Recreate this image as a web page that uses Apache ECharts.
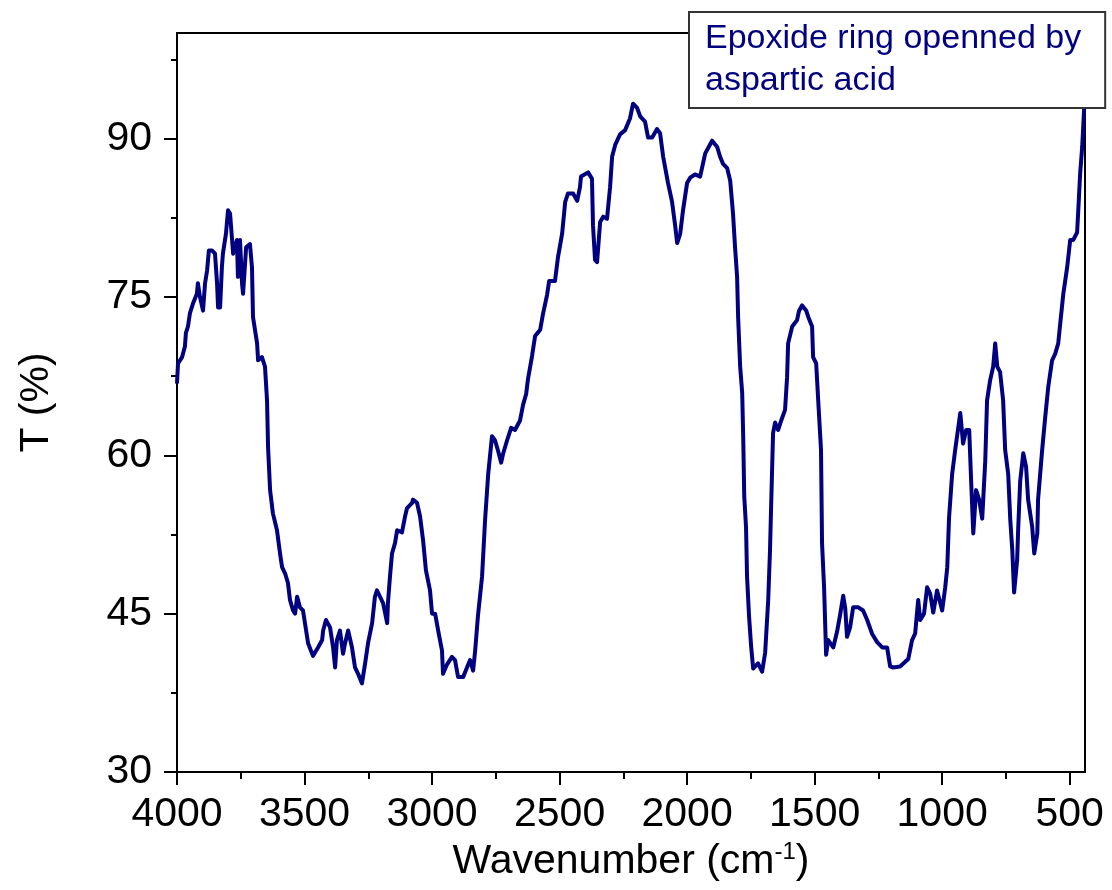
<!DOCTYPE html>
<html>
<head>
<meta charset="utf-8">
<script src="https://cdn.jsdelivr.net/npm/echarts@6/dist/echarts.min.js"></script>
<style>
  html, body { margin: 0; padding: 0; background: #ffffff; }
  #chart { width: 1112px; height: 890px; }
</style>
</head>
<body>
<div id="chart"></div>
<script>
// FTIR spectrum: wavenumber (cm^-1) and transmittance (%)
const wavenumbers = [
  4000, 3996, 3980, 3969, 3965, 3957, 3949, 3937, 3922, 3918, 3910, 3898, 3890, 3882, 3875, 3863,
  3851, 3843, 3839, 3831, 3824, 3820, 3808, 3800, 3792, 3784, 3780, 3765, 3761, 3753, 3745, 3741,
  3729, 3714, 3706, 3702, 3686, 3682, 3667, 3655, 3647, 3643, 3635, 3624, 3608, 3596, 3588, 3576,
  3565, 3557, 3545, 3537, 3529, 3518, 3506, 3486, 3467, 3447, 3431, 3427, 3416, 3400, 3388, 3380,
  3373, 3361, 3349, 3341, 3329, 3314, 3302, 3290, 3275, 3263, 3251, 3235, 3224, 3216, 3204, 3192,
  3176, 3173, 3165, 3157, 3145, 3137, 3118, 3106, 3098, 3078, 3075, 3059, 3047, 3035, 3024, 3008,
  3000, 2988, 2976, 2961, 2957, 2941, 2922, 2910, 2898, 2878, 2863, 2851, 2839, 2831, 2820, 2804,
  2792, 2780, 2765, 2753, 2741, 2729, 2722, 2706, 2690, 2675, 2655, 2643, 2631, 2624, 2608, 2596,
  2576, 2565, 2549, 2541, 2518, 2506, 2490, 2478, 2467, 2447, 2431, 2420, 2416, 2388, 2373, 2369,
  2361, 2353, 2341, 2329, 2314, 2302, 2294, 2282, 2263, 2243, 2224, 2212, 2196, 2184, 2165, 2153,
  2137, 2118, 2106, 2094, 2075, 2059, 2047, 2039, 2027, 2016, 2000, 1988, 1969, 1949, 1929, 1902,
  1882, 1871, 1859, 1843, 1831, 1820, 1812, 1804, 1800, 1792, 1784, 1780, 1776, 1769, 1765, 1757,
  1749, 1741, 1722, 1706, 1694, 1682, 1675, 1671, 1663, 1655, 1643, 1631, 1616, 1608, 1604, 1588,
  1569, 1561, 1549, 1533, 1525, 1510, 1506, 1494, 1486, 1475, 1471, 1463, 1455, 1447, 1427, 1412,
  1400, 1388, 1380, 1373, 1361, 1349, 1329, 1310, 1294, 1275, 1255, 1235, 1216, 1204, 1192, 1165,
  1133, 1118, 1106, 1094, 1086, 1071, 1059, 1047, 1035, 1020, 1000, 988, 980, 973, 961, 949,
  929, 918, 906, 894, 886, 878, 867, 855, 843, 831, 824, 812, 800, 792, 784, 773,
  761, 753, 741, 733, 725, 718, 706, 702, 694, 682, 671, 663, 647, 639, 627, 624,
  608, 596, 584, 569, 557, 545, 537, 525, 510, 498, 486, 471, 467, 459, 451, 443, 440
];
const transmittance = [
  66.8, 68.7, 69.3, 70.3, 71.6, 72.2, 73.5, 74.4, 75.3, 76.3, 75.0, 73.7, 76.3, 77.5, 79.4, 79.4,
  79.1, 76.3, 74.0, 74.0, 77.8, 79.1, 81.0, 83.2, 82.9, 80.4, 79.1, 80.4, 76.9, 80.4, 76.3, 75.3,
  79.7, 80.0, 77.8, 73.1, 70.6, 69.0, 69.3, 68.4, 65.2, 60.8, 56.7, 54.5, 52.9, 50.7, 49.4, 48.8,
  47.9, 46.3, 45.3, 45.0, 46.6, 45.6, 45.3, 42.2, 41.0, 41.8, 42.5, 43.4, 44.4, 43.7, 41.8, 39.9,
  42.5, 43.4, 41.2, 42.2, 43.4, 41.8, 39.9, 39.3, 38.4, 40.2, 42.2, 44.1, 46.6, 47.2, 46.6, 46.0,
  44.1, 46.0, 48.5, 50.7, 51.7, 52.9, 52.7, 54.2, 55.0, 55.5, 55.8, 55.5, 54.2, 51.9, 49.1, 47.2,
  45.0, 45.0, 43.4, 41.5, 39.3, 40.2, 40.9, 40.6, 39.0, 39.0, 39.9, 40.6, 39.6, 41.5, 44.8, 48.5,
  53.9, 58.2, 61.8, 61.4, 60.4, 59.3, 60.1, 61.4, 62.6, 62.4, 63.3, 64.8, 65.8, 67.2, 69.4, 71.3,
  71.9, 73.4, 75.2, 76.5, 76.5, 78.8, 81.0, 84.0, 84.8, 84.8, 84.1, 85.4, 86.4, 86.8, 86.2, 81.8,
  78.5, 78.3, 82.1, 82.6, 82.4, 85.4, 88.3, 89.4, 90.4, 90.8, 91.9, 93.3, 92.9, 92.1, 91.6, 90.1,
  90.1, 90.9, 90.5, 88.3, 85.8, 84.0, 81.8, 80.1, 81.0, 83.2, 85.8, 86.3, 86.6, 86.4, 88.6, 89.8,
  89.2, 88.3, 87.6, 87.2, 86.0, 82.9, 79.7, 76.9, 73.1, 68.4, 65.9, 61.7, 56.1, 53.2, 48.5, 44.7,
  41.9, 39.8, 40.3, 39.5, 41.3, 46.3, 51.0, 54.8, 62.1, 63.1, 62.4, 63.3, 64.3, 67.4, 70.6, 72.2,
  72.8, 73.7, 74.2, 73.7, 73.1, 72.2, 69.3, 68.7, 65.2, 60.5, 51.7, 47.5, 41.1, 42.5, 41.8, 43.3,
  44.9, 46.7, 45.5, 42.8, 43.7, 45.6, 45.6, 45.3, 44.4, 43.1, 42.3, 41.8, 41.8, 40.0, 39.9, 40.0,
  40.7, 42.5, 43.1, 46.3, 44.4, 45.0, 47.5, 46.9, 45.1, 47.2, 45.3, 47.5, 49.4, 54.1, 58.2, 60.5,
  64.0, 61.1, 62.4, 62.4, 57.3, 52.6, 56.7, 55.8, 54.0, 59.5, 65.2, 67.1, 68.4, 70.6, 68.4, 67.9,
  65.2, 60.5, 58.2, 53.9, 51.0, 47.0, 50.1, 53.0, 57.6, 60.2, 58.9, 55.8, 53.2, 50.7, 52.6, 55.8,
  60.5, 63.6, 66.5, 69.0, 69.6, 70.6, 72.5, 75.3, 77.8, 80.4, 80.4, 81.1, 82.9, 86.7, 89.2, 93.0, 97.0
];

const seriesName = 'Epoxide ring openned by\naspartic acid';

// Axis ticks
const xMajorTicks = [4000, 3500, 3000, 2500, 2000, 1500, 1000, 500];
const xMinorTicks = [3750, 3250, 2750, 2250, 1750, 1250, 750];
const yMajorTicks = [30, 45, 60, 75, 90];
const yMinorTicks = [37.5, 52.5, 67.5, 82.5, 97.5];

const xRange = [440, 4000];
const yRange = [30, 100];

const points = wavenumbers.map((w, i) => [w, transmittance[i]]);

const FONT = 'Liberation Sans, Arial, sans-serif';
const plain = (v) => String(v);
const chart = echarts.init(document.getElementById('chart'), null, { renderer: 'canvas' });

chart.setOption({
  backgroundColor: '#ffffff',
  animation: false,
  grid: {
    left: 177, top: 33, right: 27, bottom: 118,
    show: true, borderColor: '#000', borderWidth: 2, backgroundColor: 'transparent'
  },
  legend: {
    data: [seriesName],
    left: 689, top: 12,
    icon: 'none', itemWidth: 0, itemHeight: 0, itemGap: 0,
    padding: [6, 24, 6, 11],
    backgroundColor: '#ffffff',
    borderColor: '#333', borderWidth: 2, borderRadius: 0,
    textStyle: { color: '#000080', fontSize: 34, lineHeight: 42, fontFamily: FONT },
    selectedMode: false
  },
  xAxis: [
    {
      type: 'value', inverse: true, min: xRange[0], max: xRange[1],
      position: 'bottom',
      name: '{t|Wavenumber (cm}{s|-1}{t|)}',
      nameLocation: 'middle', nameGap: 66,
      nameTextStyle: {
        rich: {
          t: { fontSize: 41, fontFamily: FONT, color: '#000', lineHeight: 44 },
          s: { fontSize: 24, fontFamily: FONT, color: '#000', verticalAlign: 'top', lineHeight: 44, padding: [0, 0, 20, 0] }
        }
      },
      axisLine: { show: true, onZero: false, lineStyle: { color: '#000', width: 2 } },
      axisTick: { show: true, inside: false, length: 13, lineStyle: { color: '#000', width: 2 }, customValues: xMajorTicks },
      axisLabel: { show: true, margin: 22, fontSize: 41, fontFamily: FONT, color: '#000', customValues: xMajorTicks, formatter: plain },
      splitLine: { show: false }
    },
    {
      type: 'value', inverse: true, min: xRange[0], max: xRange[1],
      position: 'bottom',
      axisLine: { show: false, onZero: false },
      axisTick: { show: true, inside: false, length: 7, lineStyle: { color: '#000', width: 2 }, customValues: xMinorTicks },
      axisLabel: { show: false },
      splitLine: { show: false }
    }
  ],
  yAxis: [
    {
      type: 'value', min: yRange[0], max: yRange[1],
      position: 'left',
      name: 'T (%)',
      nameLocation: 'middle', nameGap: 120, nameRotate: 90,
      nameTextStyle: { fontSize: 41, fontFamily: FONT, color: '#000' },
      axisLine: { show: true, onZero: false, lineStyle: { color: '#000', width: 2 } },
      axisTick: { show: true, inside: false, length: 13, lineStyle: { color: '#000', width: 2 }, customValues: yMajorTicks },
      axisLabel: { show: true, margin: 25, fontSize: 41, fontFamily: FONT, color: '#000', customValues: yMajorTicks, formatter: plain },
      splitLine: { show: false }
    },
    {
      type: 'value', min: yRange[0], max: yRange[1],
      position: 'left',
      axisLine: { show: false, onZero: false },
      axisTick: { show: true, inside: false, length: 6, lineStyle: { color: '#000', width: 2 }, customValues: yMinorTicks },
      axisLabel: { show: false },
      splitLine: { show: false }
    }
  ],
  series: [
    {
      name: seriesName,
      type: 'line',
      xAxisIndex: 0, yAxisIndex: 0,
      data: points,
      showSymbol: false,
      symbol: 'none',
      lineStyle: { color: '#000080', width: 4, join: 'round' },
      itemStyle: { color: '#000080' },
      z: 3
    }
  ]
});
</script>
</body>
</html>
